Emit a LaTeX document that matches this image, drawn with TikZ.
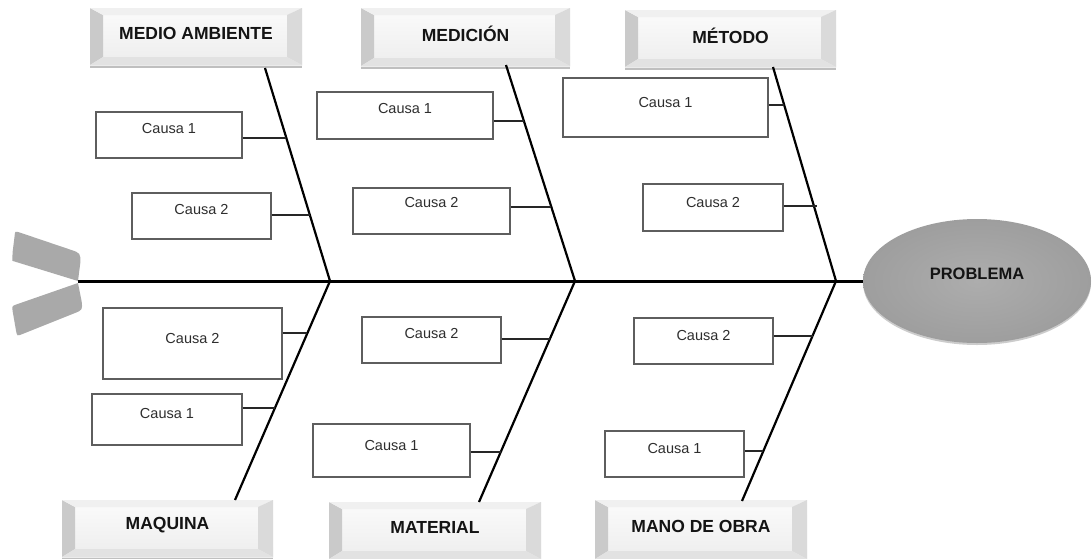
\documentclass[tikz,border=0pt]{standalone}
\usepackage{fontspec}
\setmainfont{Liberation Sans}
\usetikzlibrary{calc,shadows,shapes.geometric}

\definecolor{tailgray}{HTML}{A9A9A9}
\definecolor{boxline}{HTML}{5E5E5E}
\definecolor{causetxt}{HTML}{2E2E2E}
\definecolor{bevleft}{HTML}{CACACA}
\definecolor{bevtop}{HTML}{F0F0F0}
\definecolor{bevright}{HTML}{DADADA}
\definecolor{bevbot}{HTML}{E2E2E2}
\definecolor{faceA}{HTML}{FBFBFB}
\definecolor{faceB}{HTML}{EDEDED}
\definecolor{probin}{HTML}{ADADAD}
\definecolor{probout}{HTML}{9E9E9E}

\tikzset{
  spine/.style={line width=3pt, black},
  bone/.style={line width=2.2pt, black},
  conn/.style={line width=2.2pt, black!85},
  cbox/.style={rectangle, draw=boxline, line width=1.4pt, fill=white, inner sep=0pt},
  ctext/.style={font=\fontsize{14.5}{16}\selectfont, text=causetxt, inner sep=0pt},
  htext/.style={font=\bfseries\fontsize{17.5}{20}\selectfont, text=black!92, inner sep=0pt},
  hbox/.style={rectangle, inner sep=0pt, top color=faceA, bottom color=faceB,
    drop shadow={shadow xshift=0pt, shadow yshift=-2.5pt, opacity=0.25, fill=black},
    path picture={
      \coordinate (bsw) at (path picture bounding box.south west);
      \coordinate (bnw) at (path picture bounding box.north west);
      \coordinate (bne) at (path picture bounding box.north east);
      \coordinate (bse) at (path picture bounding box.south east);
      \fill[bevleft]  (bsw) -- (bnw) -- ($(bnw)+(13pt,-7pt)$) -- ($(bsw)+(13pt,8pt)$) -- cycle;
      \fill[bevtop]   (bnw) -- (bne) -- ($(bne)+(-15pt,-7pt)$) -- ($(bnw)+(13pt,-7pt)$) -- cycle;
      \fill[bevright] (bne) -- (bse) -- ($(bse)+(-15pt,8pt)$) -- ($(bne)+(-15pt,-7pt)$) -- cycle;
      \fill[bevbot]   (bse) -- (bsw) -- ($(bsw)+(13pt,8pt)$) -- ($(bse)+(-15pt,8pt)$) -- cycle;
    }},
  prob/.style={ellipse, minimum width=228pt, minimum height=124pt, inner sep=0pt,
    inner color=probin, outer color=probout,
    drop shadow={shadow xshift=0pt, shadow yshift=-2pt, opacity=0.2, fill=black}},
}

% cause box: name, x1, y1, x2, y2, text y, text
\newcommand\causa[7]{%
  \node[cbox, minimum width={#4-#2}, minimum height={#5-#3}] (#1) at ({(#2+#4)/2},{(#3+#5)/2}) {};
  \node[ctext] (#1t) at ({(#2+#4)/2},#6) {#7};}
% category header: name, x1, y1, x2, y2, text
\newcommand\categoria[6]{%
  \node[hbox, minimum width={#4-#2}, minimum height={#5-#3}] (#1) at ({(#2+#4)/2},{(#3+#5)/2}) {};
  \node[htext] (#1t) at ([yshift=3pt]#1.center) {#6};}

\begin{document}
\begin{tikzpicture}[x=1pt, y=-1pt]
\useasboundingbox (0,0) rectangle (1092,558);

% tail: two blades meeting at the start of the spine
\coordinate (tail) at (78,281);
\fill[tailgray] (tail) -- (12.3,260.8)
  .. controls (11.8,256) .. (12.6,252) -- (14.6,236)
  .. controls (15,231) .. (20,232.6) -- (70,249.5)
  .. controls (80.5,253) .. (80.3,263) -- cycle;
\fill[tailgray] (78,283) -- (81.6,301)
  .. controls (82.6,310) .. (74,313.4) -- (23,333.8)
  .. controls (17,336.3) .. (16,330.5) -- (12.6,311)
  .. controls (12,306) .. (16.5,304.4) -- cycle;

% head
\node[prob] (problema) at (977,281) {};
\node[htext, font=\bfseries\fontsize{16.5}{19}\selectfont] (problemat) at (977,274) {PROBLEMA};

% category headers
\categoria{ma}{90}{8}{302}{65}{MEDIO AMBIENTE}
\categoria{me}{361}{8}{570}{66}{MEDICIÓN}
\categoria{mt}{625}{10}{836}{67}{MÉTODO}
\categoria{mq}{62}{500}{273}{557}{MAQUINA}
\categoria{mr}{329}{502}{541}{559}{MATERIAL}
\categoria{mo}{595}{500}{807}{559}{MANO DE OBRA}

% spine
\draw[spine] (tail) -- (problema.west);

% bone end points
\coordinate (j1) at (330,281);
\coordinate (j2) at (575,281);
\coordinate (j3) at (836,281);
\coordinate (tA) at (265,68);
\coordinate (tB) at (506,65);
\coordinate (tC) at (773,67);
\coordinate (bD) at (235,500);
\coordinate (bE) at (479,502);
\coordinate (bF) at (742,501);

\draw[bone] (tA) -- (j1);
\draw[bone] (tB) -- (j2);
\draw[bone] (tC) -- (j3);
\draw[bone] (j1) -- (bD);
\draw[bone] (j2) -- (bE);
\draw[bone] (j3) -- (bF);

% causes
\causa{a1}{96}{112}{242}{158}{129}{Causa 1}
\causa{a2}{132}{193}{271}{239}{210}{Causa 2}
\causa{b1}{317}{92}{493}{139}{109}{Causa 1}
\causa{b2}{353}{188}{510}{234}{203}{Causa 2}
\causa{c1}{563}{78}{768}{137}{103}{Causa 1}
\causa{c2}{643}{184}{783}{231}{203}{Causa 2}
\causa{d2}{103}{308}{282}{379}{338}{Causa 2}
\causa{d1}{92}{394}{242}{445}{413}{Causa 1}
\causa{e2}{362}{317}{501}{363}{333}{Causa 2}
\causa{e1}{313}{424}{470}{477}{445}{Causa 1}
\causa{f2}{634}{318}{773}{364}{335}{Causa 2}
\causa{f1}{605}{431}{744}{477}{448}{Causa 1}

% points where the cause lines meet the bones
\coordinate (ka1) at ($(tA)!0.329!(j1)$);
\coordinate (ka2) at ($(tA)!0.690!(j1)$);
\coordinate (kb1) at ($(tB)!0.258!(j2)$);
\coordinate (kb2) at ($(tB)!0.659!(j2)$);
\coordinate (kc1) at ($(tC)!0.177!(j3)$);
\coordinate (kc2) at ($(tC)!0.651!(j3)$);
\coordinate (kd2) at ($(j1)!0.237!(bD)$);
\coordinate (kd1) at ($(j1)!0.580!(bD)$);
\coordinate (ke2) at ($(j2)!0.264!(bE)$);
\coordinate (ke1) at ($(j2)!0.773!(bE)$);
\coordinate (kf2) at ($(j3)!0.250!(bF)$);
\coordinate (kf1) at ($(j3)!0.773!(bF)$);

\draw[conn] (a1.east |- ka1) -- (ka1);
\draw[conn] (a2.east |- ka2) -- (ka2);
\draw[conn] (b1.east |- kb1) -- (kb1);
\draw[conn] (b2.east |- kb2) -- (kb2);
\draw[conn] (c1.east |- kc1) -- (kc1);
\draw[conn] (c2.east |- kc2) -- ([xshift=3pt]kc2);
\draw[conn] (d2.east |- kd2) -- (kd2);
\draw[conn] (d1.east |- kd1) -- (kd1);
\draw[conn] (e2.east |- ke2) -- (ke2);
\draw[conn] (e1.east |- ke1) -- (ke1);
\draw[conn] (f2.east |- kf2) -- (kf2);
\draw[conn] (f1.east |- kf1) -- (kf1);
\end{tikzpicture}
\end{document}
